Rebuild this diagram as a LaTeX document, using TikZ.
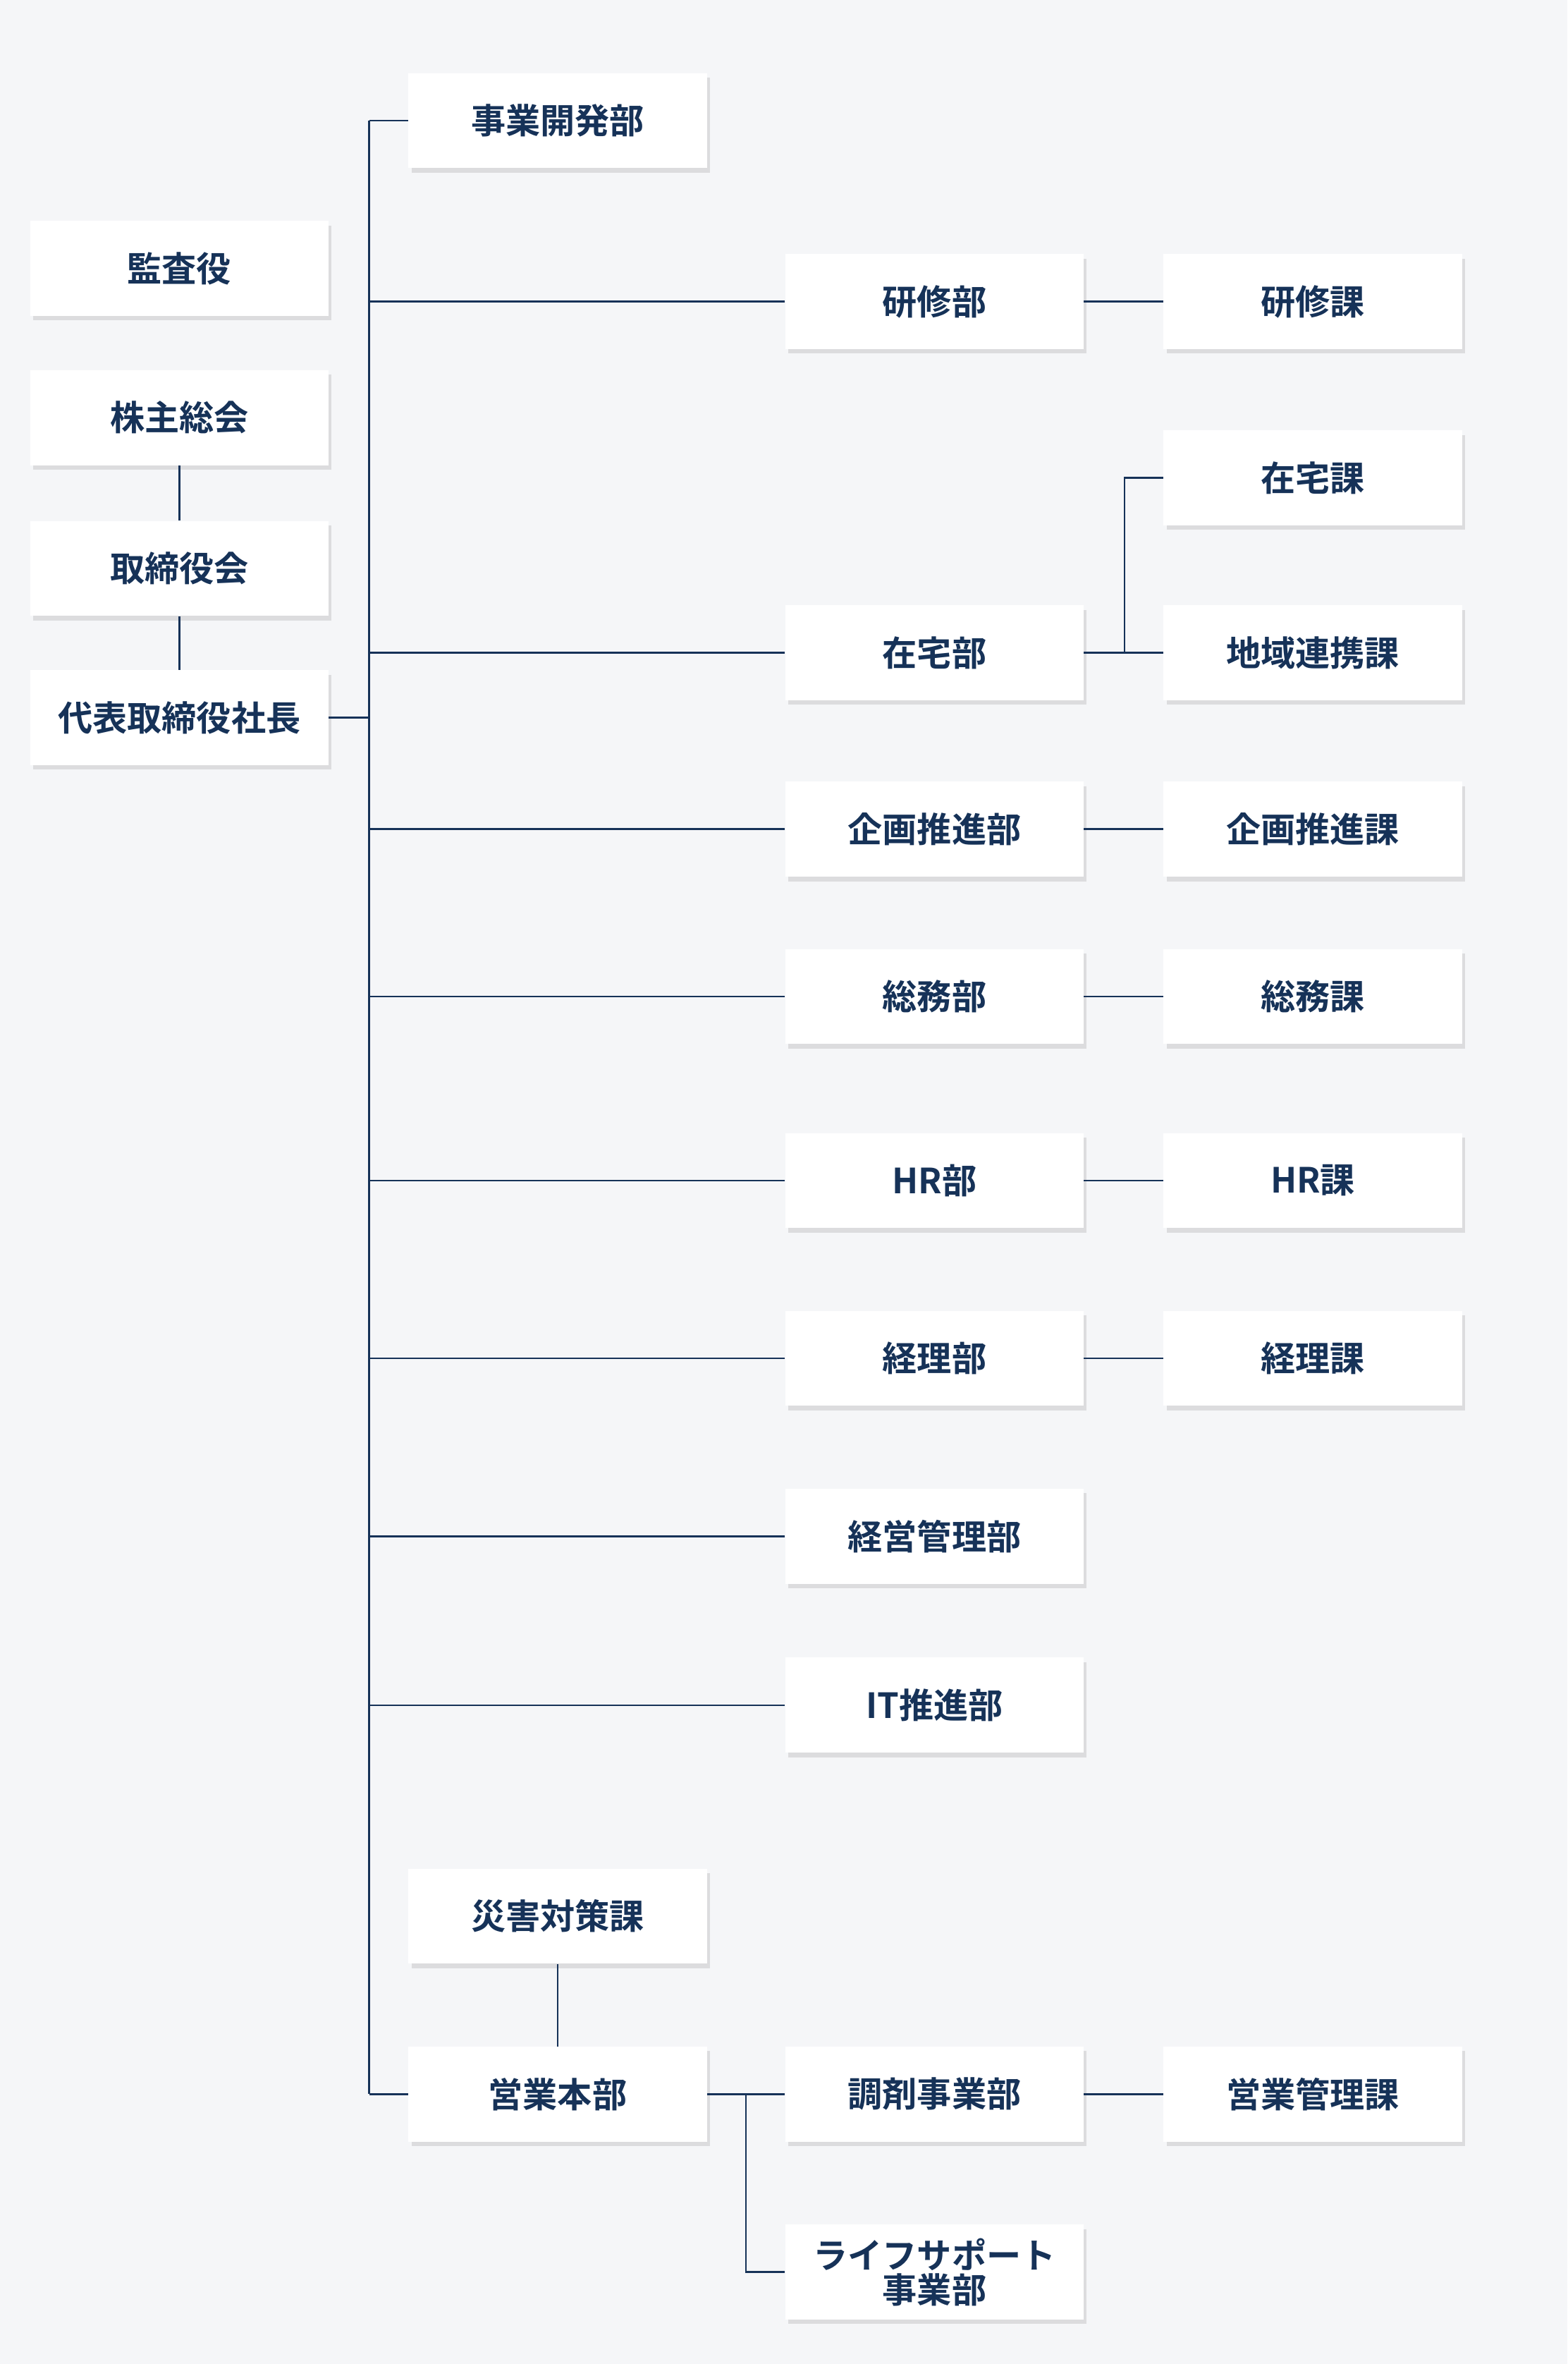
\documentclass[tikz,border=0pt]{standalone}
\usepackage{fontspec}
\setmainfont{Noto Sans CJK JP}[BoldFont={* Bold}]
\usetikzlibrary{shadows}
\definecolor{bgcol}{RGB}{245,246,248}
\definecolor{navy}{RGB}{22,50,88}
\tikzset{
  box/.style={fill=white,minimum width=198pt,minimum height=63pt,inner sep=0pt,
    font=\bfseries\fontsize{23pt}{27pt}\selectfont,text=navy,align=center,
    drop shadow={shadow xshift=2pt,shadow yshift=-3pt,opacity=0.10,fill=black}},
  link/.style={draw=navy,line width=1.2pt}
}
\begin{document}
\begin{tikzpicture}[x=1pt,y=-1pt]
\fill[bgcol] (0,0) rectangle (1040,1568);
\useasboundingbox (0,0) rectangle (1040,1568);
% left column
\node[box] (kansa) at (119,178) {監査役};
\node[box] (kabu) at (119,277) {株主総会};
\node[box] (torishimari) at (119,377) {取締役会};
\node[box] (shacho) at (119,476) {代表取締役社長};
% second column
\node[box] (jigyo) at (370,80) {事業開発部};
\node[box] (saigai) at (370,1271) {災害対策課};
\node[box] (eigyo) at (370,1389) {営業本部};
% departments
\node[box] (kenshu) at (620,200) {研修部};
\node[box] (zaitaku) at (620,433) {在宅部};
\node[box] (kikaku) at (620,550) {企画推進部};
\node[box] (somu) at (620,661) {総務部};
\node[box] (hr) at (620,783) {HR部};
\node[box] (keiri) at (620,901) {経理部};
\node[box] (keiei) at (620,1019) {経営管理部};
\node[box] (it) at (620,1131) {IT推進部};
\node[box] (chozai) at (620,1389) {調剤事業部};
\node[box] (life) at (620,1507) {ライフサポート\\[-4pt]事業部};
% sections
\node[box] (kenshuka) at (871,200) {研修課};
\node[box] (zaitakuka) at (871,317) {在宅課};
\node[box] (chiiki) at (871,433) {地域連携課};
\node[box] (kikakuka) at (871,550) {企画推進課};
\node[box] (somuka) at (871,661) {総務課};
\node[box] (hrka) at (871,783) {HR課};
\node[box] (keirika) at (871,901) {経理課};
\node[box] (eigyoka) at (871,1389) {営業管理課};
% trunk
\coordinate (ttop) at (245,80);
\coordinate (tbot) at (245,1389);
\draw[link] (ttop) -- (tbot);
\draw[link] (kabu) -- (torishimari);
\draw[link] (torishimari) -- (shacho);
\draw[link] (shacho.east) -- (shacho.east -| ttop);
\draw[link] (jigyo.west) -- (jigyo.west -| ttop);
\draw[link] (eigyo.west) -- (eigyo.west -| ttop);
\draw[link] (saigai) -- (eigyo);
\foreach \d in {kenshu,zaitaku,kikaku,somu,hr,keiri,keiei,it}
  \draw[link] (\d.west) -- (\d.west -| ttop);
\foreach \a/\b in {kenshu/kenshuka,zaitaku/chiiki,kikaku/kikakuka,somu/somuka,hr/hrka,keiri/keirika,chozai/eigyoka}
  \draw[link] (\a) -- (\b);
\coordinate (zb) at (746,433);
\draw[link] (zb) |- (zaitakuka.west);
\draw[link] (eigyo) -- (chozai);
\coordinate (eb) at (495,1389);
\draw[link] (eb) |- (life.west);
\end{tikzpicture}
\end{document}
